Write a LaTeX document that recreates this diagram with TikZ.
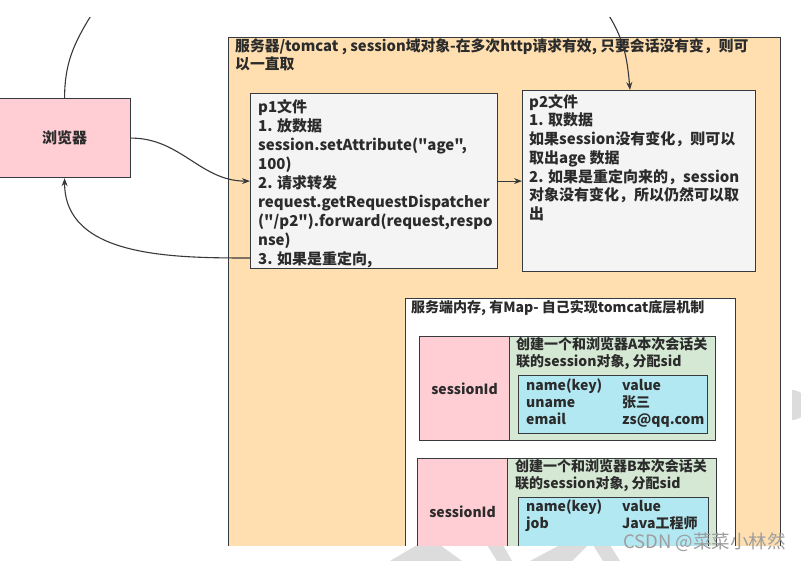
\documentclass[tikz,border=0pt]{standalone}
\usepackage{fontspec}
\setmainfont{Noto Sans CJK SC}
\newfontfamily\cjkf{Noto Sans CJK SC}
\usetikzlibrary{arrows.meta}
\definecolor{linec}{HTML}{36393D}
\definecolor{textc}{HTML}{2B2B2B}
\definecolor{pinkc}{HTML}{FFCDD4}
\definecolor{orangec}{HTML}{FFDFB0}
\definecolor{grayc}{HTML}{F4F4F4}
\definecolor{greenc}{HTML}{D5E8D4}
\definecolor{bluec}{HTML}{B2E8F2}
\definecolor{wmc}{HTML}{DCDCDC}
\tikzset{
  box/.style={draw=linec, line width=1.2pt, anchor=north west, inner sep=0pt},
  txt/.style={anchor=north west, inner sep=0pt, align=left, text=textc,
    font=\cjkf\bfseries\fontsize{15}{18.7}\selectfont},
  stxt/.style={anchor=north west, inner sep=0pt, align=left, text=textc,
    font=\cjkf\bfseries\fontsize{14}{17}\selectfont},
  arr/.style={draw=linec, line width=1.1pt, -{Stealth[length=8pt,width=6pt]}},
  ln/.style={draw=linec, line width=1.1pt}
}
\newcommand{\col}[1]{\makebox[96pt][l]{#1}}
\begin{document}
\begin{tikzpicture}[x=1pt,y=-1pt]
\useasboundingbox (0,0) rectangle (801,561);
\fill[white] (0,0) rectangle (801,561);
% faint watermark shapes
\fill[wmc] (390,561) -- (417,545) -- (440,545) -- (462,561) -- cycle;
\fill[wmc] (487,545) -- (503,545) -- (512,561) -- (497,561) -- cycle;
\fill[wmc] (530,561) -- (560,545) -- (588,545) -- (572,561) -- cycle;
\fill[wmc] (593,545) -- (610,545) -- (620,561) -- (603,561) -- cycle;
\fill[wmc] (792,390) arc[start angle=90, end angle=-90, radius=15pt] -- cycle;
\begin{scope}
\clip (0,18) rectangle (801,545);
% boxes
\node[box, fill=pinkc, minimum width=132pt, minimum height=79pt] (browser) at (-2,98) {};
\node[box, fill=orangec, minimum width=552pt, minimum height=540pt] (server) at (228,37) {};
\node[box, fill=grayc, minimum width=247pt, minimum height=175pt] (p1) at (250,93) {};
\node[box, fill=grayc, minimum width=233pt, minimum height=181pt] (p2) at (522,90) {};
\node[box, fill=white, minimum width=330pt, minimum height=300pt] (mem) at (405,298) {};
\node[box, fill=pinkc, minimum width=90pt, minimum height=104pt] (pinkA) at (419,336) {};
\node[box, fill=greenc, minimum width=206pt, minimum height=104pt] (greenA) at (509,336) {};
\node[box, fill=bluec, minimum width=189pt, minimum height=58pt] (blueA) at (518,375) {};
\node[box, fill=pinkc, minimum width=90pt, minimum height=120pt] (pinkB) at (417,458) {};
\node[box, fill=greenc, minimum width=209pt, minimum height=120pt] (greenB) at (507,458) {};
\node[box, fill=bluec, minimum width=190pt, minimum height=100pt] (blueB) at (518,497) {};
% texts
\node[txt, anchor=center] (blabel) at (browser.center) {浏览器};
\node[txt, font=\cjkf\bfseries\fontsize{14.8}{18.7}\selectfont] (title) at (235,38) {服务器/tomcat , session域对象-在多次http请求有效, 只要会话没有变，则可\\以一直取};
\node[txt, font=\cjkf\bfseries\fontsize{15}{19}\selectfont] (p1t) at (258,99.5) {p1文件\\1. 放数据\\session.setAttribute("age",\\100)\\2. 请求转发\\request.getRequestDispatcher\\("/p2").forward(request,respo\\nse)\\3. 如果是重定向,};
\node[txt] (p2t) at (529,94) {p2文件\\1. 取数据\\如果session没有变化，则可以\\取出age 数据\\2. 如果是重定向来的，session\\对象没有变化，所以仍然可以取\\出};
\node[stxt] (memt) at (411,300) {服务端内存, 有Map- 自己实现tomcat底层机制};
\node[stxt, anchor=center] (sidA) at (pinkA.center) {sessionId};
\node[stxt] (gA) at (516,337) {创建一个和浏览器A本次会话关\\联的session对象, 分配sid};
\node[stxt] (tA) at (526,379) {\col{name(key)}value\\\col{uname}张三\\\col{email}zs@qq.com};
\node[stxt, anchor=center] (sidB) at ([yshift=7pt]pinkB.center) {sessionId};
\node[stxt] (gB) at (515,459) {创建一个和浏览器B本次会话关\\联的session对象, 分配sid};
\node[stxt] (tB) at (526,500) {\col{name(key)}value\\\col{job}Java工程师};
% connectors
\coordinate (ltop) at (92,14);
\coordinate (rtop) at (608,14);
\coordinate (p2top) at (630,90);
\coordinate (p1back) at (250,258);
\draw[ln] (browser.north) to[out=90,in=238] (ltop);
\draw[arr] (rtop) to[out=-58,in=95] (p2top);
\draw[arr] (browser.east) to[out=0,in=180] (p1.west);
\draw[arr] (p1.east) -- (p2.west);
\draw[arr] (p1back) to[out=180,in=-90] (browser.south);
\end{scope}
\node[anchor=base east, inner sep=0pt, text=black!38, font=\cjkf\fontsize{18.5}{18.5}\selectfont] (wm) at (786,548) {CSDN @菜菜小林然};
\end{tikzpicture}
\end{document}
